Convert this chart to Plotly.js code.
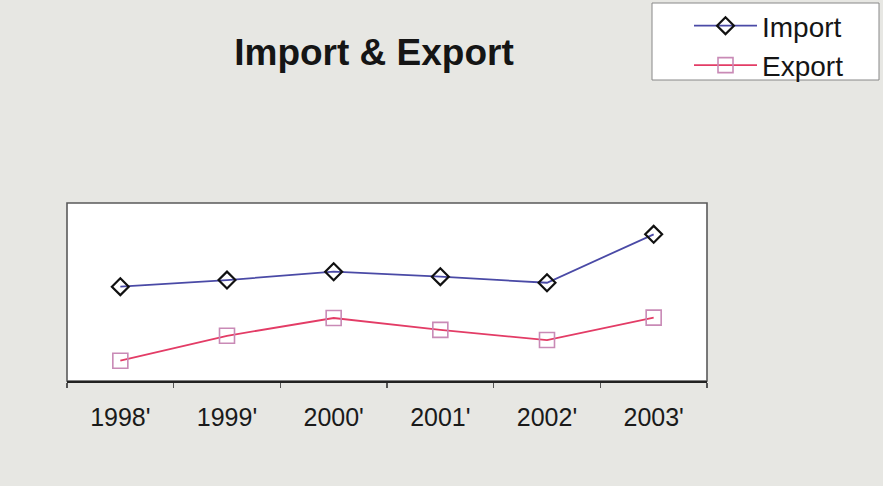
<!DOCTYPE html>
<html>
<head>
<meta charset="utf-8">
<script src="https://cdn.plot.ly/plotly-3.0.1.min.js"></script>
<style>
html,body{margin:0;padding:0;background:#e7e7e3;}
#chart{width:883px;height:486px;}
</style>
</head>
<body>
<div id="chart"></div>
<script>
const years = ["1998'", "1999'", "2000'", "2001'", "2002'", "2003'"];
const importValues = [53.0, 56.7, 61.4, 58.6, 55.2, 82.4];
const exportValues = [11.4, 25.4, 35.4, 28.7, 23.0, 35.6];

const traces = [
  {
    x: years, y: importValues, name: 'Import', type: 'scatter', mode: 'lines+markers',
    line: {color: '#4a4aa6', width: 1.8},
    marker: {symbol: 'diamond-open', size: 13, color: '#111', line: {width: 2.2, color: '#111'}}
  },
  {
    x: years, y: exportValues, name: 'Export', type: 'scatter', mode: 'lines+markers',
    line: {color: '#e33c66', width: 1.8},
    marker: {symbol: 'square-open', size: 15, color: '#c98ab6', line: {width: 1.6, color: '#c98ab6'}}
  }
];

// plot area spans x 67..707 px, y 203..381 px
const PL = 67, PR = 707, PT = 203, PB = 381;
const px = v => (v - PL) / (PR - PL);
const py = v => (PB - v) / (PB - PT);

const layout = {
  width: 883, height: 486,
  paper_bgcolor: '#e7e7e3',
  plot_bgcolor: '#ffffff',
  margin: {l: PL, r: 883 - PR, t: PT, b: 486 - PB, autoexpand: false},
  font: {family: '"Liberation Sans", Arial, sans-serif', color: '#1a1a1a'},
  title: {
    text: '<b>Import & Export</b>',
    font: {size: 37, color: '#151515', family: '"Liberation Sans", Arial, sans-serif'},
    xref: 'container', yref: 'container',
    x: 374/883, xanchor: 'center',
    y: 1 - 52/486, yanchor: 'middle'
  },
  xaxis: {
    type: 'category',
    range: [-0.5, 5.5],
    showgrid: false, zeroline: false,
    showline: true, linecolor: '#222', linewidth: 2,
    ticks: 'outside', tickson: 'boundaries', ticklen: 5, tickwidth: 1.5, tickcolor: '#555',
    tickfont: {size: 25, color: '#1a1a1a'},
    ticklabelstandoff: 13
  },
  yaxis: {
    range: [0, 100],
    showgrid: false, zeroline: false, showticklabels: false, ticks: '',
    showline: false
  },
  shapes: [
    {type: 'rect', xref: 'paper', yref: 'paper', x0: 0, x1: 1, y0: 0, y1: 1,
     line: {color: '#5a5a5a', width: 1.6}, layer: 'below'},
    {type: 'rect', xref: 'paper', yref: 'paper',
     x0: px(652), x1: px(879), y0: py(80), y1: py(3),
     fillcolor: '#ffffff', line: {color: '#888', width: 1}, layer: 'above'}
  ],
  showlegend: true,
  legend: {
    xref: 'container', yref: 'container',
    x: 652/883, y: 1 - 1/486, xanchor: 'left', yanchor: 'top',
    bgcolor: 'rgba(0,0,0,0)', borderwidth: 0,
    font: {size: 28, color: '#151515'},
    indentation: 37,
    itemwidth: 63,
    tracegroupgap: 0
  }
};

Plotly.newPlot('chart', traces, layout, {staticPlot: true, displayModeBar: false});
</script>
</body>
</html>
